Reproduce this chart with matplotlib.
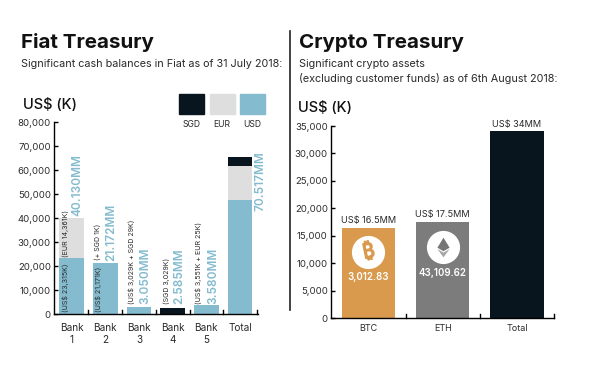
import matplotlib
matplotlib.use("Agg")
import matplotlib.pyplot as plt
import matplotlib.patheffects as pe
from matplotlib.patches import Rectangle
from matplotlib.lines import Line2D
from matplotlib.path import Path

plt.rcParams["font.family"] = ["Inter", "DejaVu Sans"]

W, H = 600, 370

# fiat data
banks = ["Bank\n1", "Bank\n2", "Bank\n3", "Bank\n4", "Bank\n5", "Total"]
usd = [23315, 21172, 3200, 0, 3750, 47500]
eur = [16815, 0, 0, 0, 0, 14300]
sgd = [0, 0, 0, 2585, 0, 3600]
fiat_totals = ["40.130MM", "21.172MM", "3.050MM", "2.585MM", "3.580MM", "70.517MM"]
fiat_ticks = [0, 10000, 20000, 30000, 40000, 50000, 60000, 70000, 80000]

# crypto data
coins = ["BTC", "ETH", "Total"]
coin_values = [16500, 17500, 34000]
coin_labels = ["US$ 16.5MM", "US$ 17.5MM", "US$ 34MM"]
coin_amounts = ["3,012.83", "43,109.62"]
crypto_ticks = [0, 5000, 10000, 15000, 20000, 25000, 30000, 35000]

C_USD = "#84BBCE"
C_EUR = "#DEDEDE"
C_SGD = "#08151E"
C_BTC = "#D99A4E"
C_ETH = "#7C7C7C"
TXT = "#2a2a2a"


def px_axes(x0, x1, y_top, y_bot):
    return fig.add_axes([x0 / W, 1 - y_bot / H, (x1 - x0) / W, (y_bot - y_top) / H])


def fig_text(x, y, s, **kw):
    fig.text(x / W, 1 - y / H, s, **kw)


def style_axis(ax, ticks):
    for s in ["top", "right"]:
        ax.spines[s].set_visible(False)
    ax.spines["left"].set_linewidth(1.0)
    ax.spines["bottom"].set_linewidth(1.0)
    ax.set_yticks(ticks)
    ax.set_yticklabels([f"{t:,}" for t in ticks], fontsize=6.9, color=TXT)
    ax.tick_params(axis="y", direction="in", length=3.2, width=1, pad=2.5)
    ax.tick_params(axis="x", length=0)
    # separators between the bars point up from the axis
    for b in ax.get_xticks():
        ax.plot([b + 0.5, b + 0.5], [0, 0.02], transform=ax.get_xaxis_transform(),
                color="black", lw=1, clip_on=False)


fig = plt.figure(figsize=(W / 100, H / 100), dpi=100)

# headers
fig_text(21, 47.7, "Fiat Treasury", fontsize=14.8, fontweight="bold", color="#111111")
fig_text(299, 47.7, "Crypto Treasury", fontsize=14.8, fontweight="bold", color="#111111")
fig_text(21, 66.7, "Significant cash balances in Fiat as of 31 July 2018:", fontsize=7.8, color=TXT)
fig_text(299, 66.7, "Significant crypto assets", fontsize=7.8, color=TXT)
fig_text(299, 81.7, "(excluding customer funds) as of 6th August 2018:", fontsize=7.8, color=TXT)
fig.add_artist(Line2D([289.5 / W, 289.5 / W], [1 - 31 / H, 1 - 310 / H], color="#222222", lw=1.2))

# left chart
ax = px_axes(54.3, 258, 122.3, 314.3)
x = list(range(len(banks)))
eur_base = usd
sgd_base = [u + e for u, e in zip(usd, eur)]
ax.bar(x, usd, width=0.73, color=C_USD)
ax.bar(x, eur, width=0.73, bottom=eur_base, color=C_EUR)
ax.bar(x, sgd, width=0.73, bottom=sgd_base, color=C_SGD)
ax.set_xlim(-0.51, 5.53)
ax.set_ylim(0, 80000)
ax.set_xticks(x)
ax.set_xticklabels(banks, fontsize=7.2, color=TXT, linespacing=1.35)
ax.tick_params(axis="x", pad=6)
style_axis(ax, fiat_ticks)

# big teal totals
total_x = [0.18, 1.19, 2.2, 3.2, 4.2, 5.61]
total_y = [41000, 22200, 4300, 4300, 4300, 43000]
for xp, yp, s in zip(total_x, total_y, fiat_totals):
    ax.text(xp, yp, s, rotation=90, ha="center", va="bottom", fontsize=8.5,
            color=C_USD, fontweight="semibold", clip_on=False)

# small breakdown notes
notes = [
    (-0.18, 1100, "(US$ 23,315K)"),
    (-0.18, 24000, "(EUR 14,361K)"),
    (0.79, 1100, "(US$ 21,171K)"),
    (0.79, 22800, "(+ SGD 1K)"),
    (1.79, 4300, "(US$ 3,029K + SGD 29K)"),
    (2.81, 4300, "(SGD 3,029K)"),
    (3.78, 4300, "(US$ 3,551K + EUR 25K)"),
]
for xp, yp, s in notes:
    ax.text(xp, yp, s, rotation=90, ha="center", va="bottom", fontsize=5.1, color=TXT)

fig_text(23, 109, "US$ (K)", fontsize=10.5, fontweight="medium", color="#111111")

# legend swatches
for x0, c, name in [(178.5, C_SGD, "SGD"), (209.5, C_EUR, "EUR"), (240, C_USD, "USD")]:
    fig.add_artist(Rectangle((x0 / W, 1 - 113.5 / H), 25.2 / W, 19 / H, color=c,
                             transform=fig.transFigure))
    fig_text(x0 + 12.6, 127.5, name, fontsize=6.2, ha="center", color=TXT)

# right chart
ax2 = px_axes(331.3, 554, 126, 318.3)
x2 = list(range(len(coins)))
ax2.bar(x2, coin_values, width=0.72, color=[C_BTC, C_ETH, C_SGD])
ax2.set_xlim(-0.5, 2.5)
ax2.set_ylim(0, 35000)
ax2.set_xticks(x2)
ax2.set_xticklabels(coins, fontsize=6.5, color=TXT)
ax2.tick_params(axis="x", pad=4)
style_axis(ax2, crypto_ticks)
for xp, v, s in zip(x2, coin_values, coin_labels):
    ax2.text(xp, v + 500, s, ha="center", va="bottom", fontsize=6.6, color=TXT)

# coin badges
ax2.scatter([0, 1], [12100, 13030], s=570, color="white", zorder=3, linewidths=0)
ax2.text(0, 12100, "\u20bf", fontsize=15, color=C_BTC, ha="center",
         va="center", rotation=12, zorder=4,
         family=["DejaVu Sans", "Noto Sans", "Roboto", "Open Sans", "Lato", "Liberation Sans"],
         path_effects=[pe.withStroke(linewidth=0.9, foreground=C_BTC)])
eth_top = Path([(0, 1), (0.62, -0.02), (0, -0.38), (-0.62, -0.02), (0, 1)], closed=True)
eth_bot = Path([(0, -0.52), (0.62, -0.16), (0, -1), (-0.62, -0.16), (0, -0.52)], closed=True)
ax2.scatter([1], [13030], s=200, marker=eth_top, color="#767676", zorder=4, linewidths=0)
ax2.scatter([1], [13030], s=200, marker=eth_bot, color="#a5a5a5", zorder=4, linewidths=0)
ax2.text(0, 7600, coin_amounts[0], ha="center", va="center", fontsize=7,
         color="white", fontweight="semibold", zorder=4)
ax2.text(1, 8300, coin_amounts[1], ha="center", va="center", fontsize=7,
         color="white", fontweight="semibold", zorder=4)

fig_text(297.5, 112, "US$ (K)", fontsize=10.5, fontweight="medium", color="#111111")

fig.savefig("out.png", dpi=100)
